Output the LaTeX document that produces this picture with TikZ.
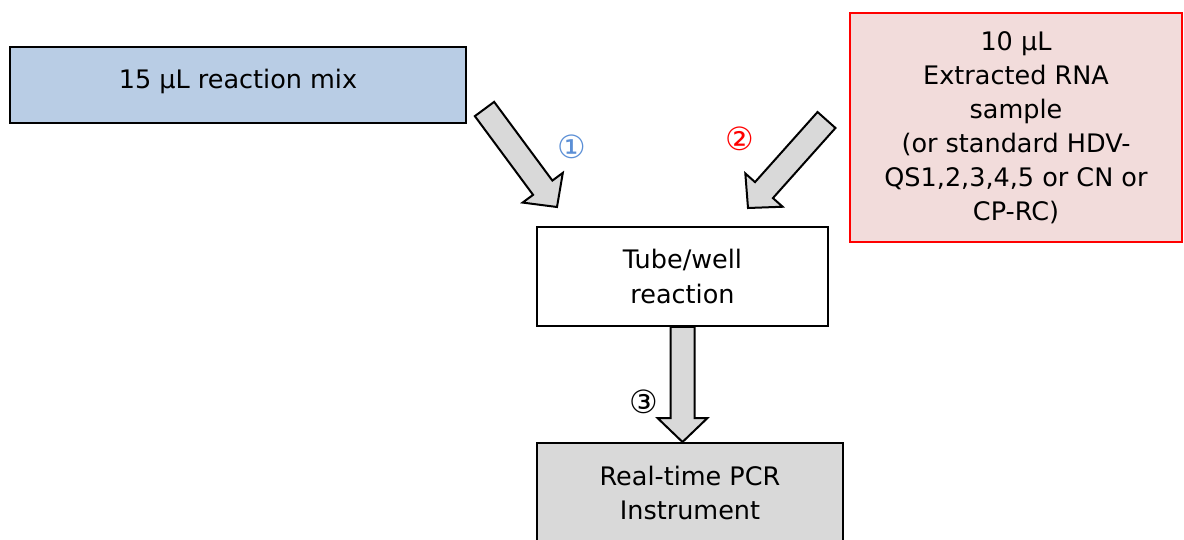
\documentclass[tikz,border=0pt]{standalone}
\usepackage{fontspec}
\setmainfont{DejaVu Sans}
\usetikzlibrary{calc,backgrounds}
\definecolor{mixblue}{HTML}{B9CDE5}
\definecolor{rnapink}{HTML}{F2DCDB}
\definecolor{pcrgrey}{HTML}{D9D9D9}
\definecolor{arrgrey}{HTML}{D9D9D9}
\definecolor{stepblue}{HTML}{5B8FD6}
\definecolor{stepred}{HTML}{FF0000}

% fat arrow from tail #2 to tip #3 (shaft 24pt, head 50pt wide)
\newcommand{\blockarrow}[3][]{%
  \coordinate (ba-h) at ($(#3)!24pt!(#2)$);
  \draw[blockarr,#1] ($(#2)!12pt!90:(#3)$) -- ($(ba-h)!12pt!90:(#3)$)
    -- ($(ba-h)!25pt!90:(#3)$) -- (#3) -- ($(ba-h)!25pt!-90:(#3)$)
    -- ($(ba-h)!12pt!-90:(#3)$) -- ($(#2)!12pt!-90:(#3)$) -- cycle;}

\begin{document}
\begin{tikzpicture}[x=1pt,y=-1pt,
  box/.style={draw=black,line width=1.7pt,inner sep=0pt,align=center,
              font=\fontsize{25.5}{34.5}\selectfont},
  blockarr/.style={draw=black,line width=2pt,fill=arrgrey,line join=miter},
  num/.style={font=\fontsize{32}{32}\selectfont,inner sep=0pt}]
\useasboundingbox (0,0) rectangle (1184,539);
\clip (0,0) rectangle (1184,539);
\begin{pgfonlayer}{background}
  \fill[white] (0,0) rectangle (1184,539);
\end{pgfonlayer}

\node[box,fill=mixblue,minimum width=456.5pt,minimum height=76.5pt,
      text height=21pt,text depth=15pt] (mix) at (238,85)
  {15 µL reaction mix};
\node[box,draw=red,fill=rnapink,minimum width=332pt,minimum height=229pt,
      font=\fontsize{25.5}{34}\selectfont] (rna) at (1016,127.5)
  {10 µL\\
   Extracted RNA\\
   sample\\
   (or standard HDV-\\
   QS1,2,3,4,5 or CN or\\
   CP-RC)};
\node[box,fill=white,minimum width=291pt,minimum height=99pt] (tube) at (682.5,276.5)
  {Tube/well\\reaction};
\node[box,fill=pcrgrey,minimum width=306pt,minimum height=100pt,anchor=north] (pcr) at (690,442)
  {Real-time PCR\\Instrument};

% the three pipetting / loading steps
\coordinate (mixtail) at (484.5,109);
\coordinate (mixtip) at (557,207);
\coordinate (rnatail) at (826.5,120);
\coordinate (rnatip) at (748,208);
\coordinate (pcrin) at (tube.south |- pcr.north);
\blockarrow{mixtail}{mixtip}
\blockarrow{rnatail}{rnatip}
\begin{pgfonlayer}{background}
  \blockarrow{tube.south}{pcrin}
\end{pgfonlayer}

\node[num,text=stepblue] (s1) at (571.5,147) {①};
\node[num,text=stepred] (s2) at (739.5,139) {②};
\node[num] (s3) at (643.5,402) {③};
\end{tikzpicture}
\end{document}
